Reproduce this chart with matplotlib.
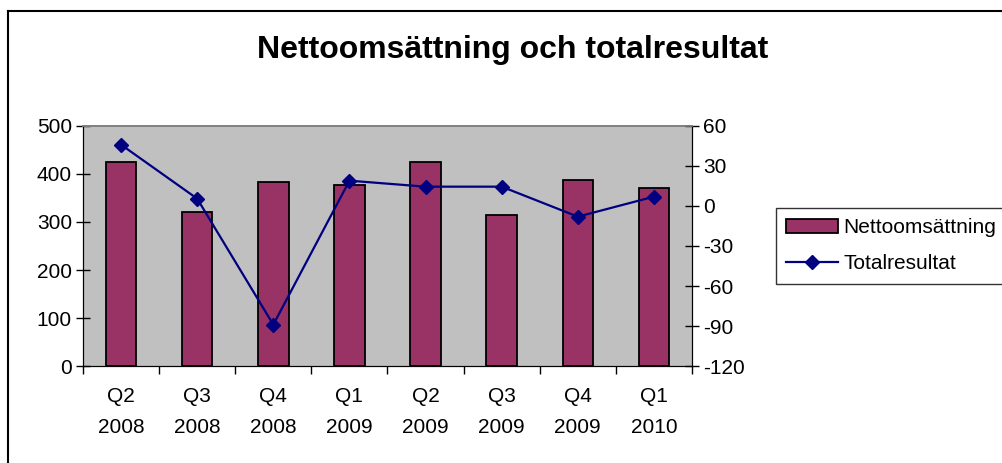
import matplotlib
matplotlib.use("Agg")
import matplotlib.pyplot as plt
from matplotlib.lines import Line2D
import numpy as np

# === DATA ===
quarters = ["Q2\n2008", "Q3\n2008", "Q4\n2008", "Q1\n2009",
            "Q2\n2009", "Q3\n2009", "Q4\n2009", "Q1\n2010"]
nettoomsattning = [424, 320, 383, 378, 424, 315, 387, 370]
totalresultat = [46, 5.5, -89, 19, 14.5, 14.5, -8, 7]

bar_color = "#993366"
line_color = "#000080"
bg_color = "#C0C0C0"

plt.rcParams["font.family"] = ["Liberation Sans", "DejaVu Sans"]
plt.rcParams["axes.unicode_minus"] = False

W, H = 1003, 463
fig = plt.figure(figsize=(W / 100, H / 100), dpi=100)
ax = fig.add_axes([83 / W, 1 - 366 / H, (692 - 83) / W, (366 - 126) / H])
ax2 = ax.twinx()

x = np.arange(len(quarters))
ax.bar(x, nettoomsattning, width=0.4, color=bar_color, edgecolor="black",
       linewidth=1.3, zorder=2, label="Nettoomsättning")
ax2.plot(x, totalresultat, color=line_color, lw=1.6, marker="D", ms=7,
         label="Totalresultat", zorder=3)

ax.set_facecolor(bg_color)
ax.set_xlim(-0.5, len(quarters) - 0.5)
ax.set_ylim(0, 500)
ax.set_yticks(range(0, 501, 100))
ax2.set_ylim(-120, 60)
ax2.set_yticks(range(-120, 61, 30))

# category ticks between groups, labels centered under bars
ax.set_xticks(np.arange(-0.5, len(quarters), 1))
ax.set_xticklabels([])
ax.set_xticks(x, minor=True)
ax.set_xticklabels(quarters, minor=True, fontsize=15, linespacing=1.8)
ax.tick_params(axis="x", which="minor", length=0, pad=15)
ax.tick_params(axis="x", which="major", direction="out", length=6, width=1)
ax.tick_params(axis="y", direction="inout", length=10, width=1, labelsize=15, pad=3)
ax2.tick_params(axis="y", direction="inout", length=10, width=1, labelsize=15, pad=3)

for a in (ax, ax2):
    a.spines["top"].set_color("#808080")
    a.spines["right"].set_color("black")
    a.spines["left"].set_color("black")
    a.spines["bottom"].set_color("black")
    a.spines["top"].set_linewidth(1.2)

fig.text(513 / W, 1 - 50 / H, "Nettoomsättning och totalresultat",
         ha="center", va="center", fontsize=23, fontweight="bold")

h1, l1 = ax.get_legend_handles_labels()
h2, l2 = ax2.get_legend_handles_labels()
leg = fig.legend(h1 + h2, l1 + l2, loc="upper left",
                 bbox_to_anchor=(776 / W, 1 - 208 / H), fontsize=15,
                 frameon=True, fancybox=False, borderaxespad=0,
                 handlelength=2.5, handletextpad=0.25, labelspacing=0.8,
                 borderpad=0.5)
leg.get_frame().set_edgecolor("black")
leg.get_frame().set_linewidth(1)

# outer chart frame (partly cut off on the right and bottom)
fig.add_artist(Line2D([8 / W, 8 / W], [0, 1 - 11 / H], color="black", lw=1.5))
fig.add_artist(Line2D([8 / W, 1], [1 - 11 / H, 1 - 11 / H], color="black", lw=1.5))

fig.savefig("out.png", dpi=100)
